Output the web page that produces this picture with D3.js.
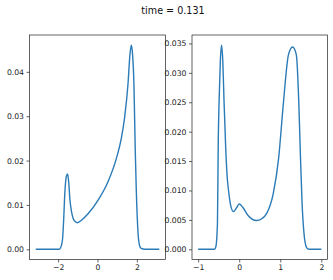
<!DOCTYPE html>
<html>
<head>
<meta charset="utf-8">
<script src="https://cdn.jsdelivr.net/npm/d3@7"></script>
<style>
  body { margin: 0; background: #fff; }
  svg { display: block; font-family: "DejaVu Sans", sans-serif; }
</style>
</head>
<body>
<svg id="chart" width="333" height="280"></svg>
<script>
const title = "time = 0.131";

// left panel
const leftX = [-3.14, -2.4, -1.95, -1.88, -1.78, -1.72, -1.66, -1.58, -1.52, -1.47, -1.40, -1.32, -1.24, -1.12, -1.02, -0.80, -0.48, 0.03, 0.54, 0.96, 1.21, 1.38, 1.55, 1.65, 1.72, 1.78, 1.85, 1.92, 1.97, 2.06, 2.14, 2.22, 2.4, 3.14];
const leftY = [0, 0, 0, 0.0003, 0.0021, 0.0065, 0.0126, 0.0165, 0.0170, 0.0155, 0.0111, 0.0085, 0.0070, 0.0062, 0.0060, 0.0066, 0.0080, 0.0111, 0.0153, 0.0205, 0.0250, 0.0298, 0.0373, 0.0440, 0.0460, 0.0440, 0.0373, 0.0219, 0.0134, 0.0036, 0.0008, 0.0002, 0, 0];
const leftXTicks = [-2, 0, 2];
const leftYTicks = [0, 0.01, 0.02, 0.03, 0.04];

// right panel
const rightX = [-1, -0.6, -0.57, -0.53, -0.51, -0.49, -0.46, -0.43, -0.40, -0.37, -0.33, -0.29, -0.26, -0.21, -0.14, -0.07, 0.0, 0.08, 0.21, 0.42, 0.55, 0.67, 0.83, 0.96, 1.08, 1.20, 1.30, 1.39, 1.45, 1.49, 1.53, 1.57, 1.64, 1.7, 2];
const rightY = [0, 0, 0.0004, 0.0044, 0.0185, 0.0252, 0.0320, 0.0347, 0.0320, 0.0252, 0.0174, 0.0120, 0.0100, 0.0075, 0.0064, 0.0070, 0.0077, 0.0072, 0.0058, 0.0049, 0.0052, 0.0061, 0.0095, 0.0155, 0.0252, 0.0331, 0.0344, 0.0331, 0.0252, 0.0160, 0.0080, 0.0033, 0.0003, 0, 0];
const rightXTicks = [-1, 0, 1, 2];
const rightYTicks = [0, 0.005, 0.01, 0.015, 0.02, 0.025, 0.03, 0.035];

const svg = d3.select("#chart");

svg.append("text")
    .attr("x", 173)
    .attr("y", 13.5)
    .attr("text-anchor", "middle")
    .attr("font-size", 9.6)
    .attr("fill", "#111")
    .text(title);

// matplotlib-style autoscale: data extent plus 5% each side
function padded(vals) {
    const [lo, hi] = d3.extent(vals);
    const p = (hi - lo) * 0.05;
    return [lo - p, hi + p];
}

function drawPanel(x0, x1, xs, ys, xTicks, yTicks, yFmt) {
    const top = 35, bottom = 259.5;
    const x = d3.scaleLinear().domain(padded(xs)).range([x0, x1]);
    const y = d3.scaleLinear().domain(padded(ys)).range([bottom, top]);

    const g = svg.append("g");

    const line = d3.line()
        .x(d => x(d[0]))
        .y(d => y(d[1]))
        .curve(d3.curveMonotoneX);

    g.append("path")
        .datum(d3.zip(xs, ys))
        .attr("fill", "none")
        .attr("stroke", "#2a7bb8")
        .attr("stroke-width", 1.4)
        .attr("d", line);

    const xAxis = g.append("g")
        .attr("transform", `translate(0,${bottom})`)
        .call(d3.axisBottom(x).tickValues(xTicks).tickSize(3).tickPadding(2.5)
            .tickFormat(d => d3.format("d")(d).replace("-", "\u2212")));
    const yAxis = g.append("g")
        .attr("transform", `translate(${x0},0)`)
        .call(d3.axisLeft(y).tickValues(yTicks).tickSize(3).tickPadding(2.5)
            .tickFormat(d3.format(yFmt)));

    [xAxis, yAxis].forEach(a => {
        a.select(".domain").remove();
        a.selectAll("line").attr("stroke", "#222").attr("stroke-width", 0.7);
        a.selectAll("text").attr("font-size", 7.7).attr("fill", "#222")
            .attr("font-family", "DejaVu Sans, sans-serif");
    });

    g.append("rect")
        .attr("x", x0)
        .attr("y", top)
        .attr("width", x1 - x0)
        .attr("height", bottom - top)
        .attr("fill", "none")
        .attr("stroke", "#222")
        .attr("stroke-width", 0.7);
}

drawPanel(29.5, 165.5, leftX, leftY, leftXTicks, leftYTicks, ".2f");
drawPanel(192, 327.5, rightX, rightY, rightXTicks, rightYTicks, ".3f");
</script>
</body>
</html>
